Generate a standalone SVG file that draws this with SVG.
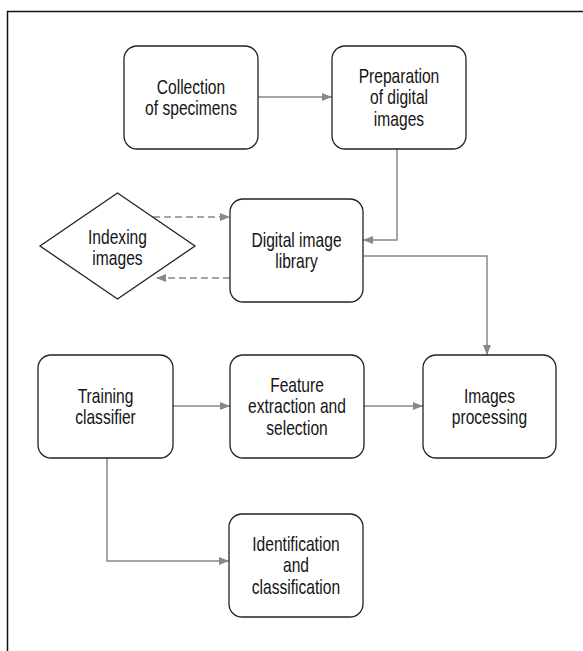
<svg xmlns="http://www.w3.org/2000/svg" width="583" height="651" viewBox="0 0 583 651">
<style>
.box{fill:#fff;stroke:#222;stroke-width:1.3}
.t{font-family:"Liberation Sans Narrow","Liberation Sans",Arial,sans-serif;font-size:20px;fill:#151515;text-anchor:middle;transform-box:fill-box;transform-origin:center;transform:scaleX(0.78)}
.c{fill:none;stroke:#888;stroke-width:1.5}
.d{stroke-dasharray:7 4}
</style>
<defs>
<marker id="ah" viewBox="0 0 10 8" refX="10" refY="4" markerWidth="10" markerHeight="8" markerUnits="userSpaceOnUse" orient="auto">
<path d="M0,0 L10,4 L0,8 Z" fill="#888"/>
</marker>
</defs>
<rect width="583" height="651" fill="#fff"/>
<path d="M7.5,651 V11.5 H583" fill="none" stroke="#111" stroke-width="1.5"/>
<g id="connectors">
<path class="c" d="M258,97 H332" marker-end="url(#ah)"/>
<path class="c" d="M397,149 V240 H363" marker-end="url(#ah)"/>
<path class="c" d="M363,256 H487 V355" marker-end="url(#ah)"/>
<path class="c d" d="M153,217 H230" marker-end="url(#ah)"/>
<path class="c d" d="M230,278 H156" marker-end="url(#ah)"/>
<path class="c" d="M173,406 H230" marker-end="url(#ah)"/>
<path class="c" d="M364,406 H423" marker-end="url(#ah)"/>
<path class="c" d="M107,458 V561 H229" marker-end="url(#ah)"/>
</g>
<g id="collection">
<rect class="box" x="124" y="46" width="134" height="103" rx="13"/>
<text class="t" x="191" y="94">Collection</text>
<text class="t" x="191" y="115.5">of specimens</text>
</g>
<g id="preparation">
<rect class="box" x="332" y="46" width="134" height="103" rx="13"/>
<text class="t" x="399" y="83">Preparation</text>
<text class="t" x="399" y="104.5">of digital</text>
<text class="t" x="399" y="126">images</text>
</g>
<g id="indexing">
<polygon class="box" points="117.5,193 195,246 117.5,299 40,246"/>
<text class="t" x="117.5" y="244">Indexing</text>
<text class="t" x="117.5" y="265.5">images</text>
</g>
<g id="library">
<rect class="box" x="230" y="199" width="133" height="103" rx="13"/>
<text class="t" x="296.5" y="247">Digital image</text>
<text class="t" x="296.5" y="268.5">library</text>
</g>
<g id="training">
<rect class="box" x="38" y="355" width="135" height="103" rx="13"/>
<text class="t" x="105.5" y="403">Training</text>
<text class="t" x="105.5" y="424.5">classifier</text>
</g>
<g id="feature">
<rect class="box" x="230" y="355" width="134" height="103" rx="13"/>
<text class="t" x="297" y="392">Feature</text>
<text class="t" x="297" y="413.5">extraction and</text>
<text class="t" x="297" y="435">selection</text>
</g>
<g id="processing">
<rect class="box" x="423" y="355" width="133" height="103" rx="13"/>
<text class="t" x="489.5" y="403">Images</text>
<text class="t" x="489.5" y="424.5">processing</text>
</g>
<g id="identification">
<rect class="box" x="229" y="514" width="134" height="103" rx="13"/>
<text class="t" x="296" y="551">Identification</text>
<text class="t" x="296" y="572.5">and</text>
<text class="t" x="296" y="594">classification</text>
</g>
</svg>
